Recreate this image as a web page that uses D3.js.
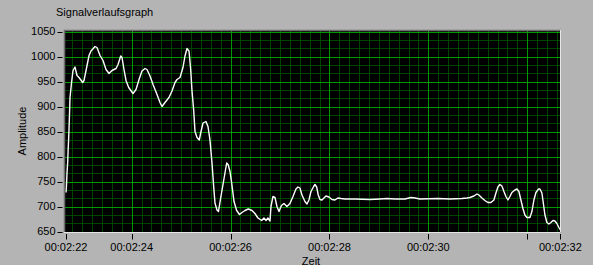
<!DOCTYPE html>
<meta charset="utf-8">
<style>
body { margin: 0; background: #b4b4b4; }
text { font-family: 'Liberation Sans', Arial, sans-serif; font-size: 11px; fill: #000; }
</style>
<body>
<script src="https://d3js.org/d3.v7.min.js"></script>
<script>

// seconds after 00:02:00
const times = [22.671, 22.682, 22.692, 22.706, 22.712, 22.722, 22.732, 22.742, 22.752, 22.783,
  22.813, 22.853, 22.894, 22.934, 23.009, 23.035, 23.076, 23.137, 23.177, 23.258,
  23.298, 23.359, 23.420, 23.480, 23.541, 23.602, 23.683, 23.723, 23.778, 23.804,
  23.844, 23.885, 23.939, 24.026, 24.087, 24.148, 24.208, 24.269, 24.309, 24.370,
  24.431, 24.512, 24.572, 24.613, 24.673, 24.754, 24.815, 24.876, 24.916, 24.977,
  25.037, 25.078, 25.118, 25.159, 25.193, 25.219, 25.254, 25.280, 25.321, 25.367,
  25.395, 25.442, 25.502, 25.543, 25.583, 25.624, 25.658, 25.684, 25.725, 25.755,
  25.796, 25.852, 25.921, 25.953, 25.988, 26.022, 26.069, 26.123, 26.180, 26.230,
  26.291, 26.358, 26.433, 26.493, 26.554, 26.629, 26.675, 26.716, 26.756, 26.797,
  26.817, 26.857, 26.898, 26.938, 26.979, 27.029, 27.080, 27.140, 27.201, 27.262,
  27.322, 27.363, 27.403, 27.444, 27.504, 27.545, 27.585, 27.626, 27.680, 27.707,
  27.741, 27.773, 27.808, 27.848, 27.889, 27.929, 27.990, 28.050, 28.111, 28.172,
  28.232, 28.313, 28.516, 28.819, 29.021, 29.163, 29.324, 29.527, 29.648, 29.729,
  29.830, 30.194, 30.437, 30.679, 30.780, 30.841, 30.922, 30.983, 31.023, 31.084,
  31.144, 31.205, 31.266, 31.326, 31.367, 31.407, 31.448, 31.488, 31.529, 31.569,
  31.610, 31.650, 31.690, 31.751, 31.792, 31.832, 31.872, 31.913, 31.953, 31.994,
  32.054, 32.095, 32.135, 32.176, 32.230, 32.257, 32.297, 32.331, 32.358, 32.398,
  32.439, 32.479, 32.520, 32.560, 32.600, 32.641, 32.671];

const values = [728, 745, 768, 790, 808, 830, 855, 885, 918, 948,
  972, 979, 962, 958, 948, 952, 972, 1002, 1011, 1020,
  1018, 1002, 992, 974, 966, 972, 976, 984, 1001, 998,
  974, 952, 938, 926, 934, 954, 971, 976, 974, 961,
  944, 924, 908, 900, 908, 918, 931, 948, 954, 958,
  978, 1001, 1016, 1011, 974, 932, 892, 850, 838, 833,
  847, 867, 870, 860, 833, 787, 740, 707, 693, 690,
  715, 747, 787, 783, 770, 747, 710, 692, 684, 688,
  692, 695, 692, 686, 677, 672, 677, 672, 677, 671,
  700, 720, 718, 700, 690, 702, 706, 700, 706, 720,
  735, 739, 737, 723, 710, 705, 713, 730, 740, 744,
  739, 723, 714, 713, 717, 721, 719, 714, 713, 717,
  716, 715, 715, 714, 715, 716, 715, 715, 718, 717,
  715, 716, 715, 716, 717, 718, 721, 725, 723, 717,
  712, 708, 708, 713, 727, 739, 744, 741, 730, 720,
  713, 720, 728, 733, 735, 730, 713, 696, 683, 678,
  678, 690, 713, 728, 735, 735, 727, 703, 683, 668,
  665, 668, 672, 671, 666, 658, 653];

const xTicks = [22.671, 24, 26, 28, 30, 32, 32.671];
const xTickLabels = ["00:02:22", "00:02:24", "00:02:26", "00:02:28", "00:02:30", "", "00:02:32"];
const yTicks = [650, 700, 750, 800, 850, 900, 950, 1000, 1050];

const width = 593, height = 265,
    plotLeft = 64, plotTop = 30, plotRight = 561, plotBottom = 233;

let svg = d3.select("body").append("svg")
            .attr("width", width)
            .attr("height", height);

svg.append("rect").attr("width", width).attr("height", height).attr("fill", "#b4b4b4");

let x = d3.scaleLinear().domain([22.671, 32.671]).range([66, 560.4]),
    y = d3.scaleLinear().domain([650, 1050]).range([231.5, 31.5]);

// plot background
svg.append("rect")
    .attr("x", plotLeft).attr("y", plotTop)
    .attr("width", plotRight - plotLeft).attr("height", plotBottom - plotTop)
    .attr("fill", "#000");

svg.append("clipPath").attr("id", "clip")
  .append("rect")
    .attr("x", plotLeft + 1).attr("y", plotTop + 1)
    .attr("width", plotRight - plotLeft - 2).attr("height", plotBottom - plotTop - 2);

let plot = svg.append("g").attr("clip-path", "url(#clip)");

// minor grid
let minorX = d3.range(114, 164).map(d => d / 5).filter(d => d % 2 !== 0),
    minorY = d3.range(0, 25).map(d => 650 + d * 50 / 3).filter((d, i) => i % 3 !== 0);

plot.append("g")
    .attr("stroke", "#004400")
    .attr("stroke-width", 1)
  .selectAll("line")
  .data(minorX)
  .join("line")
    .attr("x1", d => Math.round(x(d)) + 0.5).attr("x2", d => Math.round(x(d)) + 0.5)
    .attr("y1", plotTop).attr("y2", plotBottom);

plot.append("g")
    .attr("stroke", "#004400")
    .attr("stroke-width", 1)
  .selectAll("line")
  .data(minorY)
  .join("line")
    .attr("y1", d => Math.round(y(d)) + 0.5).attr("y2", d => Math.round(y(d)) + 0.5)
    .attr("x1", plotLeft).attr("x2", plotRight);

// major grid
plot.append("g")
    .attr("stroke", "#009800")
    .attr("stroke-width", 1)
  .selectAll("line")
  .data([24, 26, 28, 30, 32])
  .join("line")
    .attr("x1", d => Math.round(x(d)) + 0.5).attr("x2", d => Math.round(x(d)) + 0.5)
    .attr("y1", plotTop).attr("y2", plotBottom);

plot.append("g")
    .attr("stroke", "#009800")
    .attr("stroke-width", 1)
  .selectAll("line")
  .data(yTicks)
  .join("line")
    .attr("y1", d => Math.round(y(d)) + 0.5).attr("y2", d => Math.round(y(d)) + 0.5)
    .attr("x1", plotLeft).attr("x2", plotRight);

// signal
let data = times.map((t, i) => [t, values[i]]);
plot.append("path")
    .datum(data)
    .attr("fill", "none")
    .attr("stroke", "#fff")
    .attr("stroke-width", 1.4)
    .attr("stroke-linejoin", "round")
    .attr("d", d3.line().x(d => x(d[0])).y(d => y(d[1])));

// sunken border
svg.append("path")
    .attr("d", `M${plotLeft + 0.5},${plotBottom}V${plotTop + 0.5}H${plotRight}`)
    .attr("fill", "none").attr("stroke", "#6e6e6e").attr("stroke-width", 1.5);
svg.append("path")
    .attr("d", `M${plotLeft},${plotBottom - 0.5}H${plotRight - 0.5}V${plotTop}`)
    .attr("fill", "none").attr("stroke", "#e6e6e6").attr("stroke-width", 1);

// y axis
let yAxis = svg.append("g");
yAxis.selectAll("line")
  .data(yTicks)
  .join("line")
    .attr("x1", 57.5).attr("x2", 62.5)
    .attr("y1", d => Math.round(y(d)) + 0.5).attr("y2", d => Math.round(y(d)) + 0.5)
    .attr("stroke", "#000");
yAxis.selectAll("text")
  .data(yTicks)
  .join("text")
    .attr("x", 55.5)
    .attr("y", d => y(d))
    .attr("dy", "0.36em")
    .attr("text-anchor", "end")
    .text(d => d);

// x axis
let xAxis = svg.append("g");
xAxis.selectAll("line")
  .data(xTicks)
  .join("line")
    .attr("x1", d => Math.round(x(d)) + 0.5).attr("x2", d => Math.round(x(d)) + 0.5)
    .attr("y1", 234).attr("y2", 239.5)
    .attr("stroke", "#000");
xAxis.selectAll("text")
  .data(xTicks)
  .join("text")
    .attr("x", d => x(d))
    .attr("y", 250.5)
    .attr("text-anchor", "middle")
    .text((d, i) => xTickLabels[i]);

// labels
svg.append("text")
    .attr("x", 56).attr("y", 15.5)
    .text("Signalverlaufsgraph");

svg.append("text")
    .attr("transform", "translate(26,131) rotate(-90)")
    .attr("text-anchor", "middle")
    .text("Amplitude");

svg.append("text")
    .attr("x", 311).attr("y", 264.5)
    .attr("text-anchor", "middle")
    .text("Zeit");

</script>
